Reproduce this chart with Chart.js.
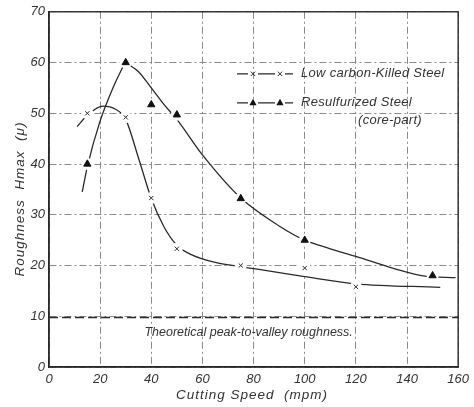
<!DOCTYPE html>
<html><head><meta charset="utf-8">
<script src="https://cdn.jsdelivr.net/npm/chart.js@4"></script>
<style>html,body{margin:0;padding:0;background:#fff}#wrap{width:474px;height:407px;position:relative}</style>
</head><body><div id="wrap"><canvas id="c"></canvas></div>
<script>
// ---- data ----
const xTickValues = [0, 20, 40, 60, 80, 100, 120, 140, 160];
const yTickValues = [0, 10, 20, 30, 40, 50, 60, 70];
const lowSpeed = [15, 30, 40, 50, 75, 100, 120];
const lowRough = [50, 49.2, 33.3, 23.3, 20, 19.5, 15.8];
const resSpeed = [15, 30, 40, 50, 75, 100, 150];
const resRough = [40, 60, 51.7, 49.7, 33.2, 25, 18];
const lowCurveSpeed = [11, 15, 21, 26, 30, 35, 40, 45, 50, 55, 65, 75, 100, 120, 153];
const lowCurveRough = [47.4, 49.6, 51.4, 50.8, 48.8, 41.2, 33.2, 27.6, 24.0, 22.3, 20.6, 19.8, 17.8, 16.4, 15.7];
const resRiseSpeed = [13, 15, 20, 25, 29.5];
const resRiseRough = [34.5, 39.5, 48.5, 55, 59.8];
const resFallSpeed = [30.5, 35, 40, 45, 50, 60, 75, 90, 100, 110, 120, 135, 147, 159];
const resFallRough = [59.8, 58.2, 55, 51.7, 48.8, 41.8, 33.3, 27.8, 25, 23.3, 21.8, 19.4, 17.9, 17.6];
const theoreticalSpeed = [0, 160];
const theoreticalRough = [9.75, 9.75];
const legendLow = 'Low carbon-Killed Steel';
const legendRes1 = 'Resulfurized Steel';
const legendRes2 = '(core-part)';
const theoreticalLabel = 'Theoretical peak-to-valley roughness.';
const xTitle = 'Cutting Speed  (mpm)';
const yTitle = 'Roughness  Hmax  (\u03bc)';

const pts = (xs, ys) => xs.map((x, i) => ({x, y: ys[i]}));
const INK = '#2a2a2a';
const FONT = 'Liberation Sans';

const curveStyle = {showLine: true, pointRadius: 0, borderColor: INK, borderWidth: 1.3, cubicInterpolationMode: 'monotone', order: 3, fill: false};

const data = {
  datasets: [
    Object.assign({label: 'lowCurve', data: pts(lowCurveSpeed, lowCurveRough)}, curveStyle),
    Object.assign({label: 'resRise', data: pts(resRiseSpeed, resRiseRough)}, curveStyle),
    Object.assign({label: 'resFall', data: pts(resFallSpeed, resFallRough)}, curveStyle),
    {label: 'theoretical', data: pts(theoreticalSpeed, theoreticalRough), showLine: true, pointRadius: 0,
     borderColor: INK, borderWidth: 1.5, borderDash: [9, 4], order: 3},
    {label: 'lowMask', data: pts(lowSpeed, lowRough), pointRadius: 6, pointBackgroundColor: '#fff', pointBorderWidth: 0, pointBorderColor: 'rgba(0,0,0,0)', order: 2},
    {label: 'resMask', data: pts(resSpeed, resRough), pointRadius: 6, pointBackgroundColor: '#fff', pointBorderWidth: 0, pointBorderColor: 'rgba(0,0,0,0)', order: 2},
    {label: legendLow, data: pts(lowSpeed, lowRough), pointStyle: 'crossRot', pointRadius: 3, pointBorderColor: INK, pointBorderWidth: 1, order: 1},
    {label: legendRes1, data: pts(resSpeed, resRough), pointStyle: 'triangle', pointRadius: 4.2, pointBackgroundColor: '#111', pointBorderColor: '#111', pointBorderWidth: 1, order: 1}
  ]
};

const decor = {
  id: 'decor',
  afterDatasetsDraw(chart) {
    const {ctx, chartArea: ca, scales: {x, y}} = chart;
    ctx.save();
    ctx.strokeStyle = INK;
    ctx.lineWidth = 1.4;
    ctx.strokeRect(ca.left, ca.top, ca.right - ca.left, ca.bottom - ca.top);

    ctx.fillStyle = '#333';
    ctx.font = 'italic 12.5px "' + FONT + '"';
    ctx.textBaseline = 'middle';
    ctx.textAlign = 'left';
    ctx.fillText(theoreticalLabel, x.getPixelForValue(37.3), y.getPixelForValue(6.7));

    // legend
    const lx0 = ca.left + 188, lx1 = ca.left + 244, ly1 = ca.top + 62, ly2 = ca.top + 91;
    const mk = [ca.left + 204, ca.left + 231];
    ctx.lineWidth = 1.2;
    [ly1, ly2].forEach(ly => {
      ctx.beginPath();
      ctx.moveTo(lx0, ly); ctx.lineTo(mk[0] - 5, ly);
      ctx.moveTo(mk[0] + 5, ly); ctx.lineTo(mk[1] - 5, ly);
      ctx.moveTo(mk[1] + 5, ly); ctx.lineTo(lx1, ly);
      ctx.stroke();
    });
    mk.forEach(m => {
      ctx.beginPath();
      ctx.lineWidth = 1;
      ctx.moveTo(m - 2.2, ly1 - 2.2); ctx.lineTo(m + 2.2, ly1 + 2.2);
      ctx.moveTo(m + 2.2, ly1 - 2.2); ctx.lineTo(m - 2.2, ly1 + 2.2);
      ctx.stroke();
      ctx.beginPath();
      ctx.fillStyle = '#111';
      ctx.moveTo(m, ly2 - 4); ctx.lineTo(m + 3.6, ly2 + 2.5); ctx.lineTo(m - 3.6, ly2 + 2.5);
      ctx.closePath(); ctx.fill();
    });
    ctx.fillStyle = '#333';
    ctx.font = 'italic 13px "' + FONT + '"';
    ctx.letterSpacing = '0.3px';
    ctx.fillText(legendLow, ca.left + 252, ly1);
    ctx.fillText(legendRes1, ca.left + 252, ly2);
    ctx.fillText(legendRes2, ca.left + 309, ca.top + 109);

    // axis titles
    ctx.font = 'italic 13.5px "' + FONT + '"';
    ctx.letterSpacing = '1px';
    ctx.textAlign = 'center';
    ctx.fillText(xTitle, 252, 395);
    ctx.translate(20, 199);
    ctx.rotate(-Math.PI / 2);
    ctx.fillText(yTitle, 0, 0);
    ctx.restore();
  }
};

const tickFont = {family: FONT, style: 'italic', size: 13};
new Chart(document.getElementById('c'), {
  type: 'scatter',
  data,
  plugins: [decor],
  options: {
    responsive: true,
    maintainAspectRatio: false,
    animation: false,
    layout: {padding: {top: 11, right: 13, bottom: 0, left: 0}},
    plugins: {legend: {display: false}, tooltip: {enabled: false}},
    scales: {
      x: {
        type: 'linear', min: 0, max: 160,
        afterBuildTicks: s => { s.ticks = xTickValues.map(v => ({value: v})); },
        afterFit: s => { s.height = 40; },
        grid: {color: '#8a8a8a', lineWidth: 1, drawTicks: false},
        border: {display: true, color: INK, width: 1.4, dash: [7, 3, 2, 3]},
        ticks: {font: tickFont, color: '#333', padding: 5, maxRotation: 0},
        title: {display: false}
      },
      y: {
        type: 'linear', min: 0, max: 70,
        afterBuildTicks: s => { s.ticks = yTickValues.map(v => ({value: v})); },
        afterFit: s => { s.width = 49; },
        grid: {color: '#8a8a8a', lineWidth: 1, drawTicks: false},
        border: {display: true, color: INK, width: 1.4, dash: [7, 3, 2, 3]},
        ticks: {font: tickFont, color: '#333', padding: 4},
        title: {display: false}
      }
    }
  }
});
</script></body></html>
